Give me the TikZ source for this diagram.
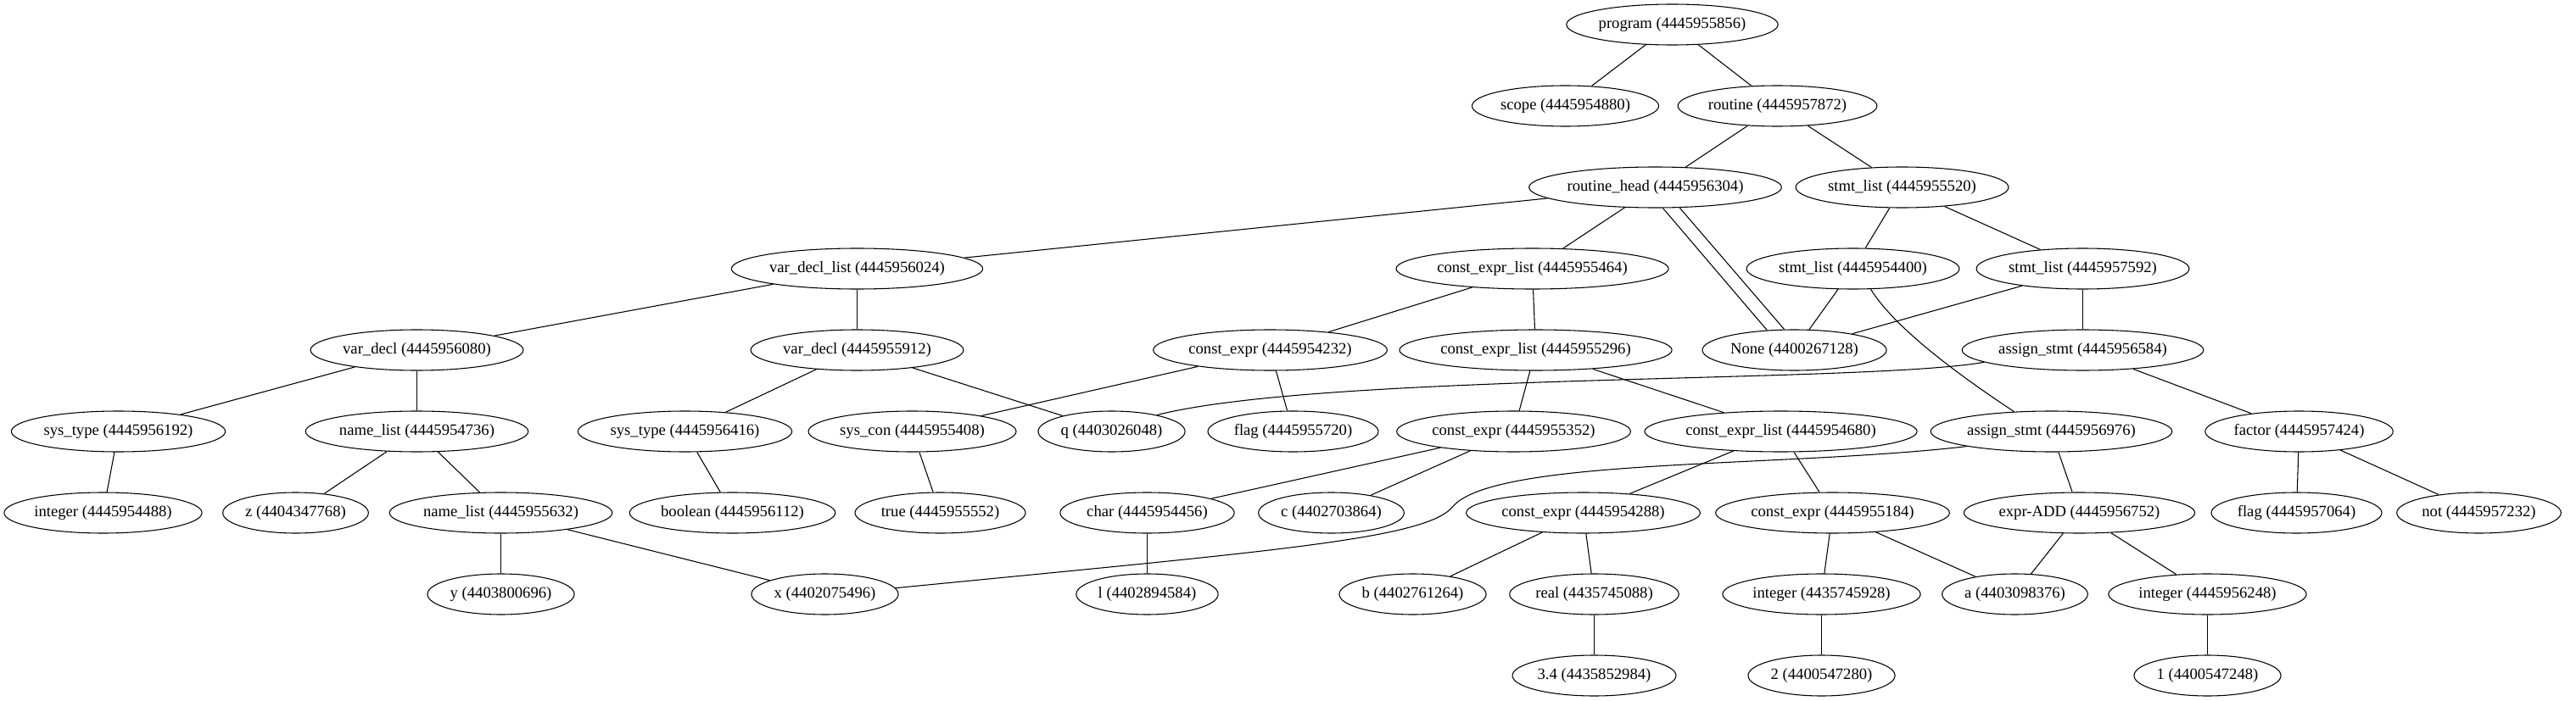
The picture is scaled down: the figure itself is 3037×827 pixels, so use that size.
\documentclass[tikz,border=0pt]{standalone}
\usepackage{fontspec}
\setmainfont{Liberation Serif}
\usetikzlibrary{shapes.geometric}
\begin{document}
\begin{tikzpicture}[x=0.75pt,y=-0.75pt,
  gnode/.style={draw, ellipse, line width=0.8pt, minimum height=36pt, inner xsep=1pt, inner ysep=0pt, font=\fontsize{14}{16}\selectfont},
  gedge/.style={line width=0.8pt}]
\fill[white] (0,0) rectangle (3037,827);
\useasboundingbox (0,0) rectangle (3037,827);
\begin{scope}[shift={(0.5,0)}]
% rank 0
\node[gnode] (prog) at (1971,29) {program (4445955856)};
% rank 1
\node[gnode] (scope) at (1845,125) {scope (4445954880)};
\node[gnode] (routine) at (2095,125) {routine (4445957872)};
% rank 2
\node[gnode] (rh) at (1951,221) {routine\_head (4445956304)};
\node[gnode] (slA) at (2242,221) {stmt\_list (4445955520)};
% rank 3
\node[gnode] (vdl) at (1010,317) {var\_decl\_list (4445956024)};
\node[gnode] (celA) at (1806,317) {const\_expr\_list (4445955464)};
\node[gnode] (slB) at (2184,317) {stmt\_list (4445954400)};
\node[gnode] (slC) at (2455,317) {stmt\_list (4445957592)};
% rank 4
\node[gnode] (vdA) at (491,413) {var\_decl (4445956080)};
\node[gnode] (vdB) at (1010,413) {var\_decl (4445955912)};
\node[gnode] (ceA) at (1497,413) {const\_expr (4445954232)};
\node[gnode] (celB) at (1810,413) {const\_expr\_list (4445955296)};
\node[gnode] (none) at (2115,413) {None (4400267128)};
\node[gnode] (asA) at (2455,413) {assign\_stmt (4445956584)};
% rank 5
\node[gnode] (stA) at (139,509) {sys\_type (4445956192)};
\node[gnode] (nlA) at (491,509) {name\_list (4445954736)};
\node[gnode] (stB) at (807,509) {sys\_type (4445956416)};
\node[gnode] (scon) at (1075,509) {sys\_con (4445955408)};
\node[gnode] (q) at (1310,509) {q (4403026048)};
\node[gnode] (flagA) at (1524,509) {flag (4445955720)};
\node[gnode] (ceB) at (1784,509) {const\_expr (4445955352)};
\node[gnode] (celC) at (2099,509) {const\_expr\_list (4445954680)};
\node[gnode] (asB) at (2418,509) {assign\_stmt (4445956976)};
\node[gnode] (factor) at (2710,509) {factor (4445957424)};
% rank 6
\node[gnode] (intA) at (121,605) {integer (4445954488)};
\node[gnode] (z) at (348,605) {z (4404347768)};
\node[gnode] (nlB) at (590,605) {name\_list (4445955632)};
\node[gnode] (bool) at (863,605) {boolean (4445956112)};
\node[gnode] (true) at (1108,605) {true (4445955552)};
\node[gnode] (char) at (1352,605) {char (4445954456)};
\node[gnode] (c) at (1569,605) {c (4402703864)};
\node[gnode] (ceC) at (1866,605) {const\_expr (4445954288)};
\node[gnode] (ceD) at (2160,605) {const\_expr (4445955184)};
\node[gnode] (add) at (2451,605) {expr-ADD (4445956752)};
\node[gnode] (flagB) at (2707,605) {flag (4445957064)};
\node[gnode] (not) at (2922,605) {not (4445957232)};
% rank 7
\node[gnode] (y) at (590,701) {y (4403800696)};
\node[gnode] (x) at (972,701) {x (4402075496)};
\node[gnode] (l) at (1352,701) {l (4402894584)};
\node[gnode] (b) at (1665,701) {b (4402761264)};
\node[gnode] (real) at (1879,701) {real (4435745088)};
\node[gnode] (intB) at (2147,701) {integer (4435745928)};
\node[gnode] (a) at (2375,701) {a (4403098376)};
\node[gnode] (intC) at (2602,701) {integer (4445956248)};
% rank 8
\node[gnode] (n34) at (1879,797) {3.4 (4435852984)};
\node[gnode] (n2) at (2147,797) {2 (4400547280)};
\node[gnode] (n1) at (2602,797) {1 (4400547248)};
% edges
\draw[gedge] (prog) -- (scope);
\draw[gedge] (prog) -- (routine);
\draw[gedge] (routine) -- (rh);
\draw[gedge] (routine) -- (slA);
\draw[gedge] (rh) -- (vdl);
\draw[gedge] (rh) -- (celA);
\draw[gedge] (rh.-70) -- (none.144);
\draw[gedge] (rh.-40) -- (none.116);
\draw[gedge] (slA) -- (slB);
\draw[gedge] (slA) -- (slC);
\draw[gedge] (slB) -- (none);
\draw[gedge] (slB.-49) .. controls (2235,390) and (2320,450) .. (asB.152);
\draw[gedge] (slC) -- (none);
\draw[gedge] (slC) -- (asA);
\draw[gedge] (vdl) -- (vdA);
\draw[gedge] (vdl) -- (vdB);
\draw[gedge] (celA) -- (ceA);
\draw[gedge] (celA) -- (celB);
\draw[gedge] (vdA) -- (stA);
\draw[gedge] (vdA) -- (nlA);
\draw[gedge] (vdB) -- (stB);
\draw[gedge] (vdB) -- (q);
\draw[gedge] (ceA) -- (scon);
\draw[gedge] (ceA) -- (flagA);
\draw[gedge] (celB) -- (ceB);
\draw[gedge] (celB) -- (celC);
\draw[gedge] (asA.187) .. controls (2200,452) and (1560,440) .. (q.20);
\draw[gedge] (asA) -- (factor);
\draw[gedge] (stA) -- (intA);
\draw[gedge] (nlA) -- (z);
\draw[gedge] (nlA) -- (nlB);
\draw[gedge] (stB) -- (bool);
\draw[gedge] (scon) -- (true);
\draw[gedge] (ceB) -- (char);
\draw[gedge] (ceB) -- (c);
\draw[gedge] (celC) -- (ceC);
\draw[gedge] (celC) -- (ceD);
\draw[gedge] (asB.190) .. controls (2100,552) and (1760,540) .. (1712,598) .. controls (1680,636) and (1500,650) .. (x.5);
\draw[gedge] (asB) -- (add);
\draw[gedge] (factor) -- (flagB);
\draw[gedge] (factor) -- (not);
\draw[gedge] (nlB) -- (y);
\draw[gedge] (nlB) -- (x);
\draw[gedge] (char) -- (l);
\draw[gedge] (ceC) -- (b);
\draw[gedge] (ceC) -- (real);
\draw[gedge] (ceD) -- (intB);
\draw[gedge] (ceD) -- (a);
\draw[gedge] (add) -- (a);
\draw[gedge] (add) -- (intC);
\draw[gedge] (real) -- (n34);
\draw[gedge] (intB) -- (n2);
\draw[gedge] (intC) -- (n1);
\end{scope}
\end{tikzpicture}
\end{document}
